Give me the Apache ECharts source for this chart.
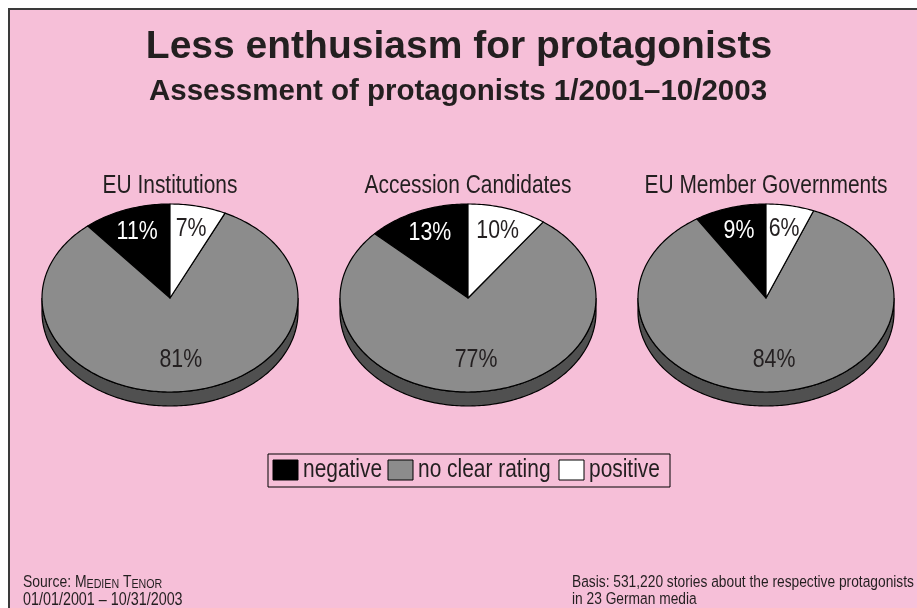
<!DOCTYPE html>
<html>
<head>
<meta charset="utf-8">
<title>Less enthusiasm for protagonists</title>
<script src="https://cdn.jsdelivr.net/npm/echarts@6/dist/echarts.min.js"></script>
<style>
  html, body { margin: 0; padding: 0; background: #ffffff; }
  #chart { width: 917px; height: 608px; }
</style>
</head>
<body>
<div id="chart"></div>
<script>
// Assessment of protagonists, share of stories in percent
const groups = ['EU Institutions', 'Accession Candidates', 'EU Member Governments'];
const ratingNames = ['negative', 'no clear rating', 'positive'];
const negative = [11, 13, 9];
const noClearRating = [81, 77, 84];
const positive = [7, 10, 6];

const SANS = '"Liberation Sans", Arial, Helvetica, sans-serif';
const NARROW_SCALE = 0.82;          // horizontal squeeze giving a narrow face
const INK = '#231f20';
const PINK = '#f6bfd8';
const SLICE_COLORS = ['#000000', '#8c8c8c', '#ffffff'];
const RIM_COLORS = ['#000000', '#505050', '#bfbfbf'];
const LABEL_COLORS = ['#ffffff', INK, INK];

// Pie geometry (elliptical pies with a visible rim)
const PIE_CX = [170, 468, 766];
const PIE_CY = 298;
const RX = 128, RY = 94, DEPTH = 14;

// Clockwise order of the slices starting at 12 o'clock
const sliceOrder = [positive, noClearRating, negative];

function sliceRange(values, i) {
  const total = sliceOrder.reduce((s, arr) => s + arr[i], 0);
  let before = 0;
  for (const arr of sliceOrder) {
    if (arr === values) break;
    before += arr[i];
  }
  const f0 = before / total, f1 = (before + values[i]) / total;
  return [-Math.PI / 2 + f0 * 2 * Math.PI, -Math.PI / 2 + f1 * 2 * Math.PI];
}

function arcPoints(cx, cy, a0, a1, dy) {
  const pts = [];
  const n = Math.max(2, Math.ceil((a1 - a0) / (Math.PI / 180)));
  for (let k = 0; k <= n; k++) {
    const a = a0 + (a1 - a0) * k / n;
    pts.push([cx + RX * Math.cos(a), cy + RY * Math.sin(a) + dy]);
  }
  return pts;
}

// narrow text element placed at (x, y)
function narrowText(x, y, text, size, extra) {
  return {
    type: 'text', x: x, y: y, scaleX: NARROW_SCALE,
    style: Object.assign({
      text: text, font: size + 'px ' + SANS, fill: INK,
      align: 'left', verticalAlign: 'middle'
    }, extra || {})
  };
}

function makeSeries(k, values) {
  return {
    type: 'custom',
    name: ratingNames[k],
    coordinateSystem: 'none',
    itemStyle: { color: SLICE_COLORS[k] },
    data: values.slice(),
    renderItem: function (params, api) {
      const i = params.dataIndex;
      const v = api.value(0);
      const cx = PIE_CX[i], cy = PIE_CY;
      const [a0, a1] = sliceRange(values, i);
      const children = [];
      // rim: only the front half (0..PI) of the slice is visible
      const s0 = Math.max(a0, 0), s1 = Math.min(a1, Math.PI);
      if (s1 > s0) {
        const top = arcPoints(cx, cy, s0, s1, 0);
        const bottom = arcPoints(cx, cy, s0, s1, DEPTH).reverse();
        children.push({
          type: 'polygon',
          shape: { points: top.concat(bottom) },
          style: { fill: RIM_COLORS[k], stroke: '#000', lineWidth: 1.2 },
          z2: 1
        });
      }
      // top face
      children.push({
        type: 'polygon',
        shape: { points: [[cx, cy]].concat(arcPoints(cx, cy, a0, a1, 0)) },
        style: { fill: SLICE_COLORS[k], stroke: '#000', lineWidth: 1.2, lineJoin: 'round' },
        z2: 2
      });
      // value label
      const mid = (a0 + a1) / 2;
      const f = (a1 - a0) > Math.PI ? 0.665 : 0.75;
      children.push({
        type: 'text',
        x: cx + RX * f * Math.cos(mid),
        y: cy + RY * f * Math.sin(mid),
        scaleX: NARROW_SCALE,
        style: {
          text: v + '%',
          align: 'center',
          verticalAlign: 'middle',
          fill: LABEL_COLORS[k],
          font: '26px ' + SANS
        },
        z2: 3
      });
      return { type: 'group', children: children };
    }
  };
}

const chart = echarts.init(document.getElementById('chart'), null, { renderer: 'canvas' });

const graphics = [
  {
    type: 'rect', left: 8, top: 8, z: -10,
    shape: { width: 920, height: 610 },
    style: { fill: PINK, stroke: '#3a3a3a', lineWidth: 2 }
  },
  {
    type: 'text', x: 459, y: 47,
    style: {
      text: 'Less enthusiasm for protagonists',
      font: 'bold 39px ' + SANS, fill: INK,
      align: 'center', verticalAlign: 'middle'
    }
  },
  {
    type: 'text', x: 458, y: 92,
    style: {
      text: 'Assessment of protagonists 1/2001\u201310/2003',
      font: 'bold 29.5px ' + SANS, fill: INK,
      align: 'center', verticalAlign: 'middle'
    }
  },
  narrowText(23, 582, 'Source: {b|M}{s|EDIEN} {b|T}{s|ENOR}', 17, {
    rich: {
      b: { fontSize: 17, fontFamily: SANS, fill: INK, verticalAlign: 'bottom' },
      s: { fontSize: 13, fontFamily: SANS, fill: INK, verticalAlign: 'bottom' }
    }
  }),
  narrowText(23, 600, '01/01/2001 \u2013 10/31/2003', 17.5),
  narrowText(572, 582, 'Basis: 531,220 stories about the respective protagonists', 16.8),
  narrowText(572, 599, 'in 23 German media', 16.8)
];

groups.forEach(function (g, i) {
  graphics.push(narrowText(PIE_CX[i], 186, g, 25.5, { align: 'center' }));
});

// Legend box with swatches
const legendX = [273, 388, 559];
const legendChildren = [{
  type: 'rect', shape: { x: 268, y: 454, width: 402, height: 33 },
  style: { fill: 'none', stroke: '#000', lineWidth: 1 }
}];
ratingNames.forEach(function (name, k) {
  legendChildren.push({
    type: 'rect', shape: { x: legendX[k], y: 460, width: 25, height: 20 },
    style: { fill: SLICE_COLORS[k], stroke: '#000', lineWidth: 1 }
  });
  legendChildren.push(narrowText(legendX[k] + 30, 470, name, 25.5));
});
graphics.push({ type: 'group', children: legendChildren });

chart.setOption({
  backgroundColor: '#ffffff',
  animation: false,
  graphic: graphics,
  series: [
    makeSeries(0, negative),
    makeSeries(1, noClearRating),
    makeSeries(2, positive)
  ]
});
</script>
</body>
</html>
